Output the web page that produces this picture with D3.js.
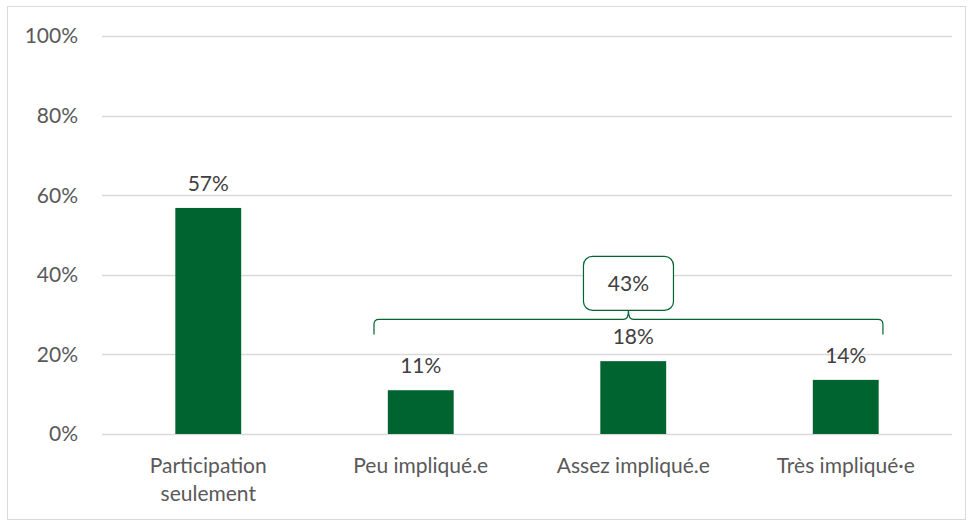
<!DOCTYPE html>
<html>
<head>
<meta charset="utf-8">
<script src="https://cdn.jsdelivr.net/npm/d3@7"></script>
<style>
  body { margin: 0; background: #fff; }
  text { font-family: Lato, "Open Sans", sans-serif; }
</style>
</head>
<body>
<div class="chart"></div>
<script>
var categories = ["Participation\nseulement", "Peu impliqué.e", "Assez impliqué.e", "Très impliqué·e"];
var values = [0.568, 0.11, 0.183, 0.136];
var yTicks = [0, 0.2, 0.4, 0.6, 0.8, 1.0];
var groupTotal = 0.43;
var groupStart = 1, groupEnd = 3;

var svgWidth = 968, svgHeight = 520;
var margin = { top: 36, right: 16, bottom: 86, left: 102 };
var width = svgWidth - margin.left - margin.right;
var height = svgHeight - margin.top - margin.bottom;
var green = "#006430";
var fontSize = "21px";

var root = d3.select(".chart").append("svg")
  .attr("width", svgWidth)
  .attr("height", svgHeight);

// outer frame
root.append("rect")
  .attr("x", 7.5).attr("y", 6.5)
  .attr("width", 958).attr("height", 513)
  .attr("fill", "none").attr("stroke", "#d9d9d9");

var chart = root.append("g")
  .attr("transform", "translate(" + margin.left + "," + margin.top + ")");

var x = d3.scaleBand().domain(categories).range([0, width]).paddingInner(0.69).paddingOuter(0.345);
var y = d3.scaleLinear().domain([0, 1]).range([height, 0]);

// gridlines
chart.selectAll(".grid")
  .data(yTicks)
  .enter().append("line")
  .attr("x1", 0).attr("x2", width)
  .attr("y1", function(d) { return Math.round(y(d)) + 0.5; })
  .attr("y2", function(d) { return Math.round(y(d)) + 0.5; })
  .attr("stroke", "#d9d9d9").attr("stroke-width", 1.3);

// y tick labels
chart.selectAll(".ytick")
  .data(yTicks)
  .enter().append("text")
  .attr("x", -24)
  .attr("y", function(d) { return y(d); })
  .attr("dy", "0.35em")
  .attr("text-anchor", "end")
  .attr("fill", "#595959")
  .style("font-size", fontSize)
  .text(function(d) { return Math.round(d * 100) + "%"; });

// bars
chart.selectAll(".bar")
  .data(values)
  .enter().append("rect")
  .attr("x", function(d, i) { return x(categories[i]); })
  .attr("y", function(d) { return y(d); })
  .attr("width", x.bandwidth())
  .attr("height", function(d) { return height - y(d); })
  .attr("fill", green);

// value labels
chart.selectAll(".val")
  .data(values)
  .enter().append("text")
  .attr("x", function(d, i) { return x(categories[i]) + x.bandwidth() / 2; })
  .attr("y", function(d) { return y(d) - 17; })
  .attr("text-anchor", "middle")
  .attr("fill", "#404040")
  .style("font-size", fontSize)
  .text(function(d) { return Math.round(d * 100) + "%"; });

// category labels
var cat = chart.selectAll(".cat")
  .data(categories)
  .enter().append("text")
  .attr("text-anchor", "middle")
  .attr("fill", "#595959")
  .style("font-size", fontSize)
  .attr("transform", function(d) { return "translate(" + (x(d) + x.bandwidth() / 2) + "," + (height + 39) + ")"; });
cat.selectAll("tspan")
  .data(function(d) { return d.split("\n"); })
  .enter().append("tspan")
  .attr("x", 0)
  .attr("dy", function(d, i) { return i === 0 ? 0 : 28; })
  .text(function(d) { return d; });

// brace over the grouped categories
var bw = x.step();
var bx0 = x(categories[groupStart]) - x.paddingOuter() * bw + 0.28 * bw;
var bx1 = x(categories[groupEnd]) - x.paddingOuter() * bw + 0.675 * bw;
var bmid = (bx0 + bx1) / 2;
var by = y(0.288);
var bEnd = by + 15;
var bTop = by - 9;
var r = 5;
var bracePath = "M" + bx0 + "," + bEnd +
  " L" + bx0 + "," + (by + r) +
  " Q" + bx0 + "," + by + " " + (bx0 + r) + "," + by +
  " L" + (bmid - r) + "," + by +
  " Q" + bmid + "," + by + " " + bmid + "," + bTop +
  " Q" + bmid + "," + by + " " + (bmid + r) + "," + by +
  " L" + (bx1 - r) + "," + by +
  " Q" + bx1 + "," + by + " " + bx1 + "," + (by + r) +
  " L" + bx1 + "," + bEnd;
chart.append("path")
  .attr("d", bracePath)
  .attr("fill", "none")
  .attr("stroke", green)
  .attr("stroke-width", 1.2);

// total box
var boxW = 90, boxH = 54;
chart.append("rect")
  .attr("x", bmid - boxW / 2)
  .attr("y", bTop - boxH)
  .attr("width", boxW).attr("height", boxH)
  .attr("rx", 9).attr("ry", 9)
  .attr("fill", "#fff")
  .attr("stroke", green)
  .attr("stroke-width", 1.2);
chart.append("text")
  .attr("x", bmid)
  .attr("y", bTop - boxH / 2)
  .attr("dy", "0.35em")
  .attr("text-anchor", "middle")
  .attr("fill", "#404040")
  .style("font-size", fontSize)
  .text(Math.round(groupTotal * 100) + "%");
</script>
</body>
</html>
